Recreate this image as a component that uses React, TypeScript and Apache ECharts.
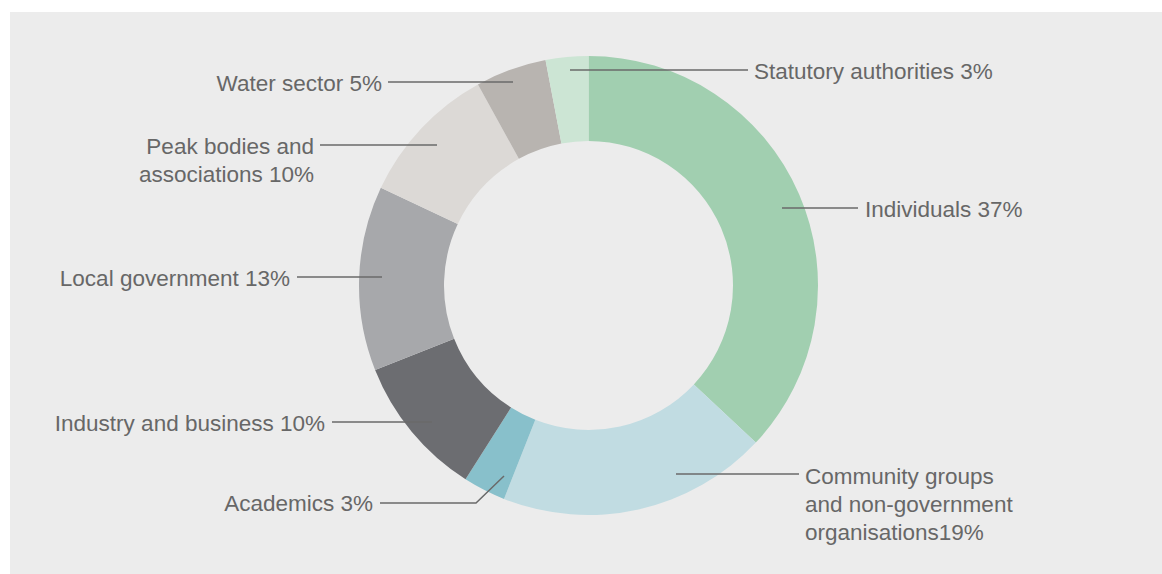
import React, { useEffect, useRef } from "react";
import * as echarts from "echarts";

const categories = [
  "Individuals",
  "Community groups\nand non-government\norganisations",
  "Academics",
  "Industry and business",
  "Local government",
  "Peak bodies and\nassociations",
  "Water sector",
  "Statutory authorities",
];
const shares = [37, 19, 3, 10, 13, 10, 5, 3];
const sliceColors = [
  "#a1cfb0",
  "#c1dce2",
  "#88c0cb",
  "#6c6d71",
  "#a7a8ab",
  "#dcd9d6",
  "#b8b4b0",
  "#cce5d4",
];

// label anchor + leader-line layout (screen positions)
const labelLayouts: any[] = [
  { x: 865, y: 209, align: "left", va: "middle", pts: [[782, 208], [858, 208]] },
  { x: 805, y: 462, align: "left", va: "top", pts: [[676, 474], [799, 474]] },
  { x: 373, y: 503, align: "right", va: "middle", pts: [[504, 476], [476, 503], [380, 503]] },
  { x: 325, y: 423, align: "right", va: "middle", pts: [[432, 422], [332, 422]] },
  { x: 290, y: 278, align: "right", va: "middle", pts: [[382, 277], [297, 277]] },
  { x: 314, y: 132, align: "right", va: "top", pts: [[437, 145], [320, 145]] },
  { x: 382, y: 83, align: "right", va: "middle", pts: [[513, 82], [388, 82]] },
  { x: 754, y: 71, align: "left", va: "middle", pts: [[570, 70], [748, 70]] },
];

export default function App() {
  const ref = useRef<HTMLDivElement>(null);
  useEffect(() => {
    if (!ref.current) return;
    const chart = echarts.init(ref.current, null, { renderer: "svg" });
    chart.setOption({
      animation: false,
      backgroundColor: "#ffffff",
      graphic: [
        {
          type: "rect",
          z: -10,
          silent: true,
          shape: { x: 10, y: 12, width: 1152, height: 562 },
          style: { fill: "#ececec" },
        },
        ...labelLayouts.map((l) => ({
          type: "polyline",
          z: 100,
          silent: true,
          shape: { points: l.pts },
          style: { stroke: "#6a6a6a", lineWidth: 1.5, fill: null },
        })),
      ],
      series: [
        {
          type: "pie",
          center: [588.5, 285.5],
          radius: [144.5, 229.5],
          startAngle: 90,
          clockwise: true,
          avoidLabelOverlap: false,
          itemStyle: { borderWidth: 0 },
          emphasis: { disabled: true },
          label: {
            show: true,
            position: "outside",
            color: "#676767",
            fontFamily: "Liberation Sans, Arial, sans-serif",
            fontSize: 22.5,
            lineHeight: 28,
            formatter: (p: any) =>
              p.name + (p.name.endsWith("organisations") ? "" : " ") + p.value + "%",
          },
          labelLine: { show: false },
          labelLayout: (params: any) => {
            const l = labelLayouts[params.dataIndex];
            return {
              x: l.x,
              y: l.y,
              align: l.align,
              verticalAlign: l.va,
            };
          },
          data: categories.map((name, i) => ({
            name,
            value: shares[i],
            itemStyle: { color: sliceColors[i] },
          })),
        },
      ],
    });
    return () => chart.dispose();
  }, []);
  return (
    <div
      ref={ref}
      style={{ position: "absolute", left: 0, top: 0, width: 1162, height: 574 }}
    />
  );
}
